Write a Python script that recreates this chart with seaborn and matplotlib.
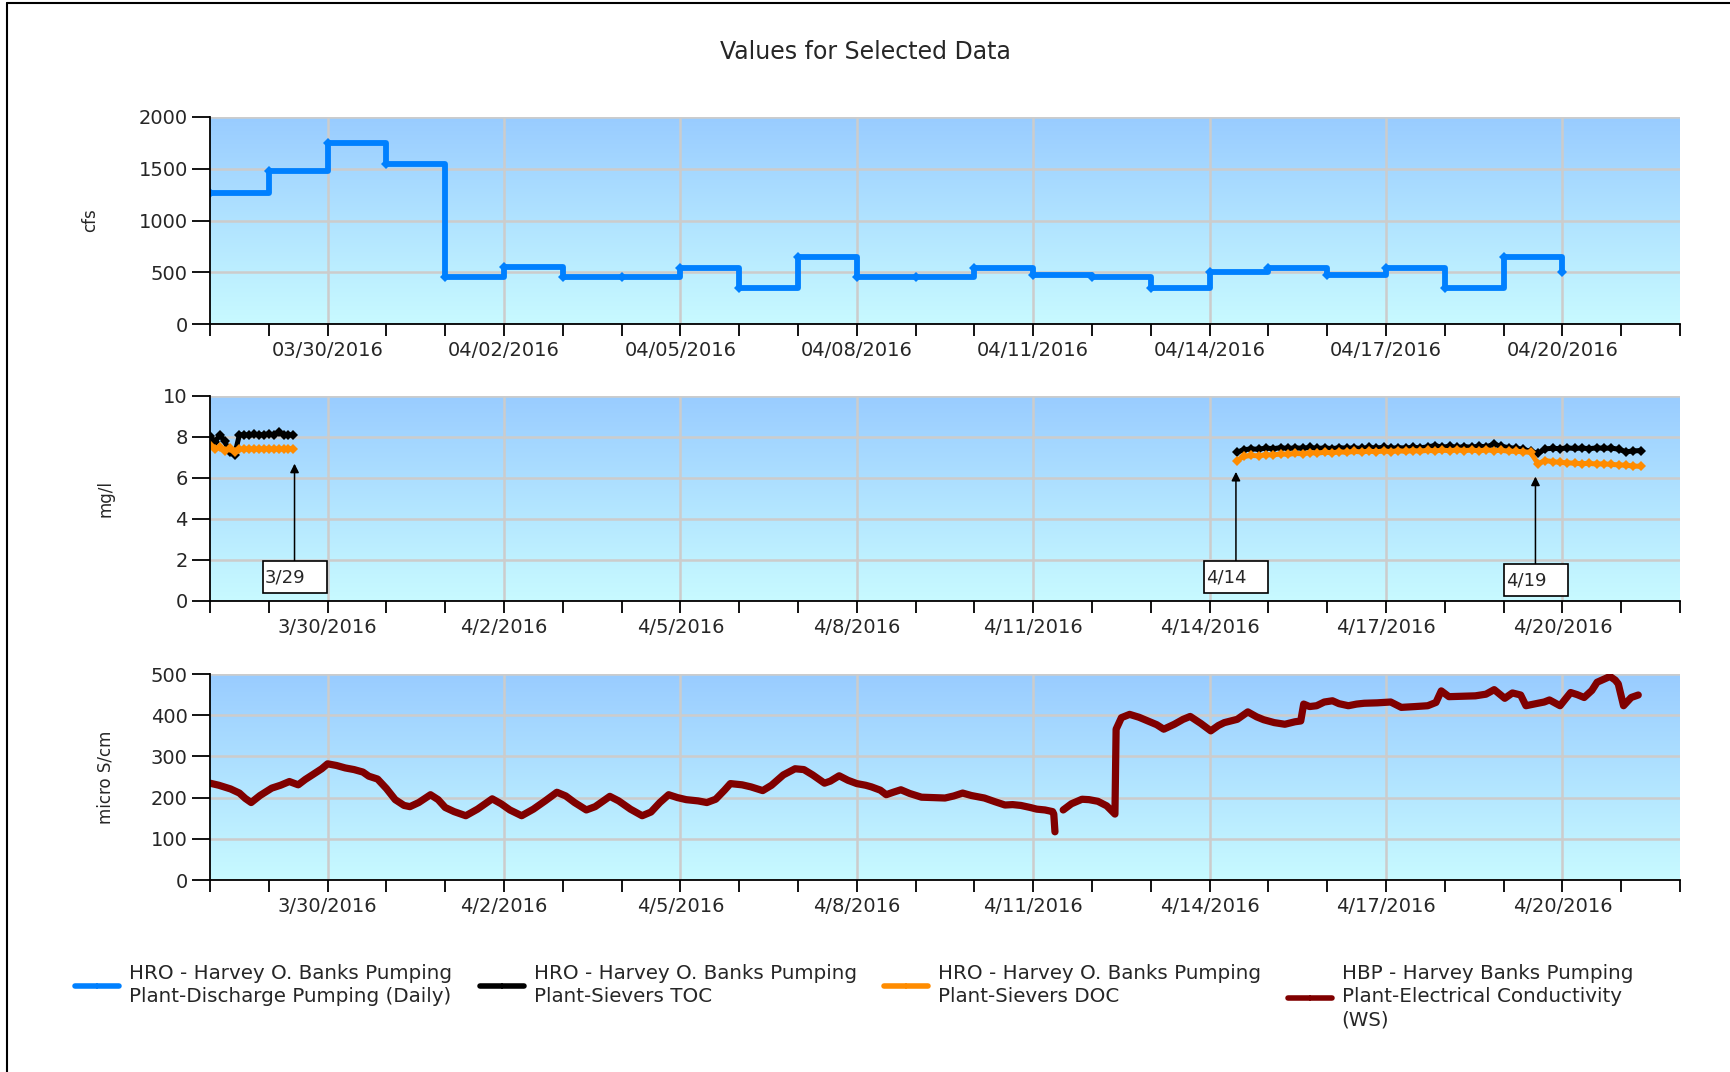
import numpy as np
import pandas as pd
import seaborn as sns
import matplotlib.pyplot as plt
import matplotlib.dates as mdates
from matplotlib.colors import LinearSegmentedColormap
from matplotlib.lines import Line2D
from matplotlib.patches import Rectangle
from matplotlib.ticker import FuncFormatter, MultipleLocator

# --- data ---
# daily discharge (cfs), one value per day starting 3/28/2016
flow_start = "2016-03-28"
flow_cfs = [1270, 1480, 1750, 1550, 455, 555, 455, 455, 540, 350, 645, 455,
            455, 542, 473, 455, 350, 500, 545, 475, 545, 350, 645, 500]

# Sievers TOC / DOC (mg/l), first run every 2 h, second run every 3 h
run1_start = "2016-03-28 00:00"
toc_run1 = [8.05, 7.75, 8.10, 7.80, 7.25, 7.12, 8.10, 8.12, 8.08, 8.13, 8.10, 8.12,
            8.15, 8.10, 8.25, 8.10, 8.12, 8.08]
doc_run1 = [7.60, 7.40, 7.50, 7.30, 7.45, 7.25, 7.42, 7.40, 7.43, 7.40, 7.42, 7.41,
            7.43, 7.40, 7.42, 7.41, 7.43, 7.42]
run2_start = "2016-04-14 11:00"
toc_run2 = [7.25, 7.38, 7.42, 7.40, 7.46, 7.43, 7.48, 7.44, 7.47, 7.45, 7.49, 7.44,
            7.47, 7.43, 7.48, 7.45, 7.47, 7.44, 7.49, 7.46, 7.50, 7.45, 7.48, 7.46,
            7.50, 7.47, 7.52, 7.58, 7.50, 7.55, 7.49, 7.53, 7.50, 7.55, 7.52, 7.65,
            7.55, 7.48, 7.45, 7.40, 7.30, 7.20, 7.42, 7.45, 7.43, 7.47, 7.44, 7.46,
            7.43, 7.47, 7.45, 7.46, 7.40, 7.28, 7.32, 7.34]
doc_run2 = [6.85, 7.05, 7.10, 7.08, 7.14, 7.12, 7.18, 7.15, 7.20, 7.18, 7.24, 7.21,
            7.26, 7.23, 7.28, 7.25, 7.30, 7.27, 7.31, 7.28, 7.32, 7.29, 7.33, 7.30,
            7.34, 7.31, 7.35, 7.32, 7.36, 7.33, 7.37, 7.34, 7.36, 7.33, 7.37, 7.34,
            7.35, 7.31, 7.30, 7.28, 7.25, 6.70, 6.85, 6.80, 6.76, 6.74, 6.72, 6.70,
            6.71, 6.68, 6.69, 6.66, 6.64, 6.62, 6.58, 6.57]

# electrical conductivity: days after 3/28/2016 and micro S/cm (nan = gap)
ec_days = [0.00, 0.15, 0.35, 0.50, 0.60, 0.70, 0.85, 1.05, 1.20, 1.35, 1.50, 1.62,
           1.75, 1.90, 2.00, 2.15, 2.30, 2.45, 2.60, 2.70, 2.85, 3.00, 3.15, 3.30,
           3.40, 3.55, 3.75, 3.88, 4.00, 4.15, 4.35, 4.55, 4.80, 4.95, 5.10, 5.30,
           5.50, 5.70, 5.90, 6.05, 6.20, 6.40, 6.55, 6.80, 6.95, 7.15, 7.35, 7.50,
           7.65, 7.80, 7.95, 8.10, 8.30, 8.45, 8.60, 8.75, 8.85, 9.05, 9.20, 9.40,
           9.55, 9.75, 9.95, 10.10, 10.25, 10.45, 10.55, 10.70, 10.85, 11.00, 11.15, 11.25,
           11.40, 11.50, 11.62, 11.75, 11.90, 12.10, 12.30, 12.50, 12.65, 12.80, 12.95, 13.17,
           13.35, 13.52, 13.65, 13.79, 13.95, 14.06, 14.20, 14.33, 14.35, 14.37, 14.44, 14.51,
           14.65, 14.83, 14.95, 15.10, 15.25, 15.39, 15.41, 15.50, 15.64, 15.80, 15.95, 16.10,
           16.22, 16.40, 16.55, 16.67, 16.85, 17.02, 17.15, 17.25, 17.47, 17.65, 17.80, 17.92,
           18.10, 18.28, 18.45, 18.55, 18.60, 18.70, 18.82, 18.95, 19.09, 19.20, 19.36, 19.50,
           19.63, 19.85, 20.08, 20.26, 20.50, 20.71, 20.85, 20.94, 21.07, 21.30, 21.52, 21.70,
           21.84, 22.02, 22.15, 22.29, 22.38, 22.55, 22.69, 22.78, 22.96, 23.14, 23.25, 23.37,
           23.50, 23.59, 23.70, 23.81, 23.90, 23.95, 24.04, 24.17, 24.29]
ec_vals = [235, 230, 221, 211, 198, 188, 205, 223, 230, 239, 231, 244,
           256, 270, 282, 278, 272, 268, 262, 252, 245, 222, 195, 181,
           178, 188, 207, 195, 176, 166, 156, 172, 197, 185, 170, 156,
           172, 192, 213, 204, 188, 170, 178, 203, 192, 172, 156, 165,
           188, 207, 200, 195, 192, 188, 196, 218, 234, 231, 226, 217,
           230, 255, 270, 268, 255, 235, 240, 253, 242, 234, 230, 226,
           218, 207, 213, 219, 210, 201, 200, 199, 204, 211, 205, 199,
           190, 182, 183, 181, 176, 172, 170, 166, 160, 117, np.nan, 170,
           185, 196, 195, 191, 180, 160, 366, 394, 402, 395, 386, 377,
           366, 378, 390, 397, 380, 362, 375, 382, 390, 408, 396, 389,
           382, 378, 384, 386, 427, 421, 423, 432, 435, 428, 423, 427,
           429, 430, 432, 419, 421, 423, 431, 459, 445, 446, 447, 451,
           462, 441, 454, 449, 423, 428, 432, 437, 423, 455, 450, 443,
           460, 480, 487, 494, 485, 476, 423, 443, 449]

notes = ["3/29", "4/14", "4/19"]
note_times = ["2016-03-29 10:30", "2016-04-14 10:45", "2016-04-19 13:00"]
note_tips = [6.7, 6.3, 6.07]
note_tails = [1.95, 1.95, 1.79]

legend_labels = ["HRO - Harvey O. Banks Pumping\nPlant-Discharge Pumping (Daily)",
                 "HRO - Harvey O. Banks Pumping\nPlant-Sievers TOC",
                 "HRO - Harvey O. Banks Pumping\nPlant-Sievers DOC",
                 "HBP - Harvey Banks Pumping\nPlant-Electrical Conductivity\n(WS)"]

BLUE, BLACK, ORANGE, MAROON = "#0080ff", "#000000", "#ff8c00", "#800000"

# --- build tables ---
flow = pd.DataFrame({"date": pd.date_range(flow_start, periods=len(flow_cfs), freq="D"),
                     "cfs": flow_cfs})

oc = pd.concat([
    pd.DataFrame({"date": pd.date_range(run1_start, periods=len(toc_run1), freq="2h"),
                  "toc": toc_run1, "doc": doc_run1, "run": 1}),
    pd.DataFrame({"date": pd.date_range(run2_start, periods=len(toc_run2), freq="3h"),
                  "toc": toc_run2, "doc": doc_run2, "run": 2}),
])

ec = pd.DataFrame({"date": pd.Timestamp(flow_start) + pd.to_timedelta(ec_days, unit="D"),
                   "ec": ec_vals})
ec["seg"] = ec["ec"].isna().cumsum()
ec = ec.dropna()

# --- figure ---
sns.set_style("ticks")
plt.rcParams["font.family"] = ["DejaVu Sans"]

W, H = 1730, 1072
fig = plt.figure(figsize=(W / 100, H / 100), dpi=100)
left, width = 210 / W, 1470 / W
ax_flow = fig.add_axes([left, 1 - 324 / H, width, 207 / H])
ax_oc = fig.add_axes([left, 1 - 601 / H, width, 205 / H])
ax_ec = fig.add_axes([left, 1 - 880 / H, width, 206 / H])

sns.lineplot(data=flow, x="date", y="cfs", ax=ax_flow, color=BLUE, lw=4.2,
             drawstyle="steps-post", marker="D", markersize=5, markeredgewidth=0)
sns.lineplot(data=oc, x="date", y="toc", units="run", estimator=None, ax=ax_oc,
             color=BLACK, lw=3.6, marker="D", markersize=5, markeredgewidth=0)
sns.lineplot(data=oc, x="date", y="doc", units="run", estimator=None, ax=ax_oc,
             color=ORANGE, lw=3.6, marker="D", markersize=5, markeredgewidth=0)
sns.lineplot(data=ec, x="date", y="ec", units="seg", estimator=None, ax=ax_ec,
             color=MAROON, lw=5.2)

sky = LinearSegmentedColormap.from_list("sky", ["#c8faff", "#99ccff"])
major = pd.date_range("2016-03-30", "2016-04-20", freq="3D")
minor = pd.date_range("2016-03-28", "2016-04-22", freq="D")

panels = [(ax_flow, 2000, 500, "cfs", -0.0755, "%m/%d/%Y"),
          (ax_oc, 10, 2, "mg/l", -0.0648, None),
          (ax_ec, 500, 100, "micro S/cm", -0.0648, None)]
for ax, ymax, ystep, ylab, ylab_x, fmt in panels:
    ax.set_xlim(pd.Timestamp("2016-03-28"), pd.Timestamp("2016-04-22"))
    ax.set_ylim(0, ymax)
    ax.imshow(np.linspace(0, 1, 256).reshape(-1, 1), cmap=sky, origin="lower",
              extent=[0, 1, 0, 1], transform=ax.transAxes, aspect="auto", zorder=-1)
    ax.set_xlim(pd.Timestamp("2016-03-28"), pd.Timestamp("2016-04-22"))
    ax.set_ylim(0, ymax)
    ax.yaxis.set_major_locator(MultipleLocator(ystep))
    ax.set_xticks(major)
    ax.set_xticks(minor, minor=True)
    if fmt:
        ax.xaxis.set_major_formatter(mdates.DateFormatter(fmt))
    else:
        ax.xaxis.set_major_formatter(FuncFormatter(
            lambda v, pos: "{d.month}/{d.day}/{d.year}".format(d=mdates.num2date(v))))
    ax.set_axisbelow(True)
    ax.grid(True, which="major", color="#cccccc", lw=1.8)
    for s in ["top", "right"]:
        ax.spines[s].set_visible(False)
    for s in ["left", "bottom"]:
        ax.spines[s].set_color("black")
        ax.spines[s].set_linewidth(1.3)
    ax.tick_params(axis="y", length=13, width=1.3, pad=3, labelsize=14, color="black")
    ax.tick_params(axis="x", which="both", length=8.5, width=1.3, pad=4,
                   labelsize=14, color="black")
    ax.set_xlabel("")
    ax.set_ylabel(ylab, fontsize=12)
    ax.yaxis.set_label_coords(ylab_x, 0.5)

# arrows + boxes marking run starts
for txt, t, tip, tail in zip(notes, note_times, note_tips, note_tails):
    xn = mdates.date2num(pd.Timestamp(t))
    ax_oc.annotate("", xy=(xn, tip), xytext=(xn, tail),
                   arrowprops=dict(arrowstyle="-|>", color="black", lw=1.1,
                                   mutation_scale=13, shrinkA=0, shrinkB=0))
    ax_oc.add_patch(Rectangle((xn - 0.54, tail - 1.55), 1.09, 1.55, facecolor="white",
                              edgecolor="black", lw=1.2, zorder=3))
    ax_oc.text(xn - 0.50, tail - 0.78, txt, fontsize=13, ha="left", va="center", zorder=4)

fig.text(0.5, 1 - 52 / H, "Values for Selected Data", ha="center", va="center", fontsize=17)

# legend: four entries side by side
for x, col, lab in zip([75, 480, 884, 1288], [BLUE, BLACK, ORANGE, MAROON], legend_labels):
    h = Line2D([], [], color=col, lw=4, marker="+", markersize=5, mew=1.2)
    leg = fig.legend(handles=[h], labels=[lab], loc="upper left",
                     bbox_to_anchor=(x / W, 1 - 964 / H), frameon=False, fontsize=14.3,
                     handlelength=2.2, handletextpad=0.5, borderpad=0, borderaxespad=0)
    for t in leg.get_texts():
        t.set_linespacing(1.3)

# frame edges visible in the screenshot
fig.add_artist(Line2D([7 / W, 7 / W], [0, 1 - 3 / H], transform=fig.transFigure,
                      color="black", lw=1.5))
fig.add_artist(Line2D([7 / W, 1], [1 - 3 / H, 1 - 3 / H], transform=fig.transFigure,
                      color="black", lw=1.5))

fig.savefig("out.png", dpi=100, facecolor="white")
